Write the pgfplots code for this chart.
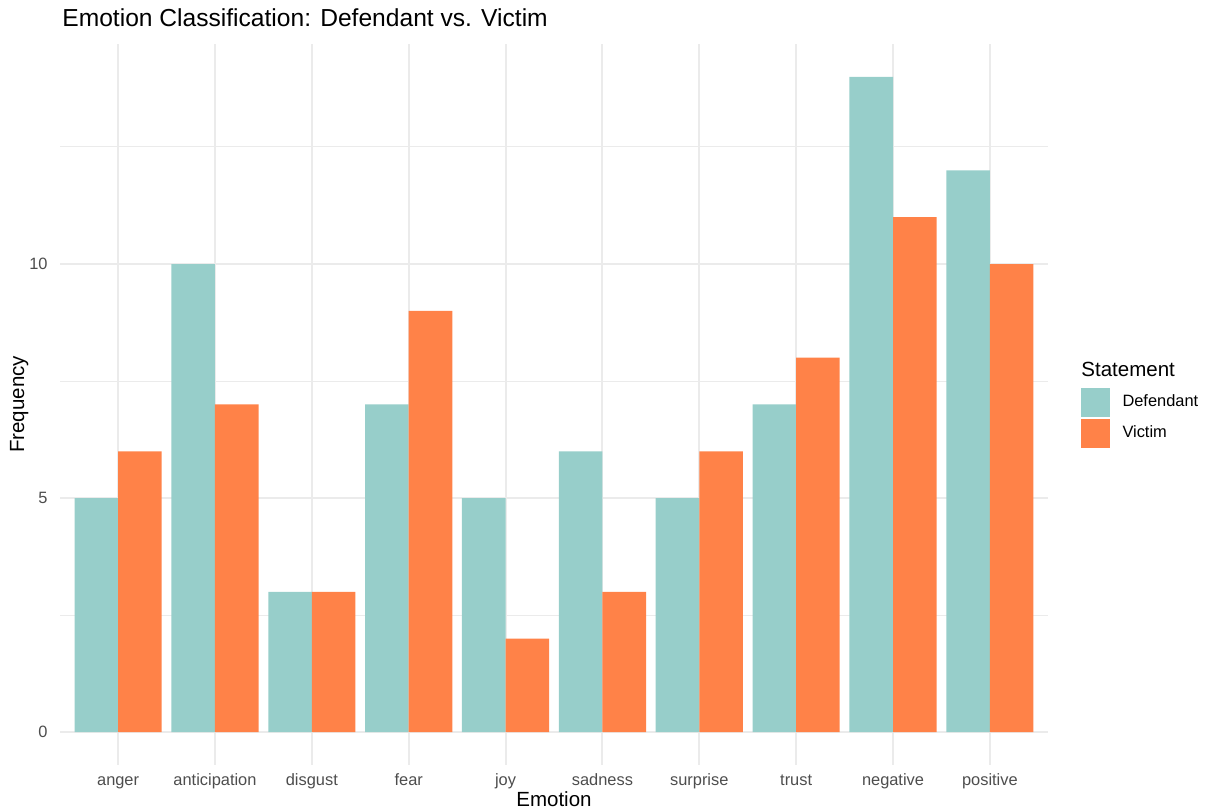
\documentclass[border=0pt]{standalone}
\usepackage{pgfplots}
\pgfplotsset{compat=1.18}
\usepackage{fontspec}
\setmainfont{Liberation Sans}
\definecolor{defc}{HTML}{97CECA}
\definecolor{vicc}{HTML}{FF8248}
\definecolor{gridc}{HTML}{EBEBEB}
\definecolor{tickc}{HTML}{4D4D4D}
\pgfplotstableread{
x def vic
1 5 6
2 10 7
3 3 3
4 7 9
5 5 2
6 6 3
7 5 6
8 7 8
9 14 11
10 12 10
}\emotiondata
\begin{document}
\begin{tikzpicture}
\begin{axis}[
  at={(0,0)}, anchor=south west,
  scale only axis, width=494pt, height=360.5pt,
  xmin=0.4, xmax=10.6, ymin=-0.7, ymax=14.7,
  xtick={1,2,3,4,5,6,7,8,9,10},
  xticklabels={anger,anticipation,disgust,fear,joy,sadness,surprise,trust,negative,positive},
  ytick={0,5,10}, minor ytick={2.5,7.5,12.5},
  xmajorgrids, ymajorgrids, yminorgrids,
  major grid style={gridc, line width=1pt},
  minor grid style={gridc, line width=0.5pt},
  tick style={draw=none},
  axis line style={draw=none},
  /pgf/number format/assume math mode=true,
  ticklabel style={font=\fontsize{8.2}{10}\selectfont, text=tickc},
  xticklabel style={anchor=base, inner sep=0pt, yshift=-10.5pt},
  yticklabel style={anchor=east, inner sep=0pt, xshift=-6pt},
  xlabel={Emotion}, ylabel={Frequency},
  xlabel style={at={(axis description cs:0.5,0)}, anchor=base, inner sep=0pt, yshift=-21pt, font=\fontsize{10.25}{12}\selectfont},
  ylabel style={at={(axis description cs:-0.0364,0.5)}, anchor=base, inner sep=0pt, font=\fontsize{10.25}{12}\selectfont},
  every axis title shift=0pt,
  title={Emotion Classification: Defendant vs. Victim},
  title style={at={(axis description cs:0.002,1.0236)}, anchor=base west, inner sep=0pt, yshift=0pt, font=\fontsize{12.3}{14}\selectfont},
  legend style={at={(1.0332,0.5229)}, anchor=north west, draw=none, fill=none, inner sep=0pt, outer sep=0pt, row sep=1pt, column sep=6.35pt, nodes={inner sep=0pt, font=\fontsize{8.2}{10}\selectfont}},
  legend cell align=left,
  clip=false,
]
\addplot[ybar, bar width=0.45, bar shift=-0.225, fill=defc, draw=none,
  legend image code/.code={\fill[defc] (0pt,-7.25pt) rectangle (14.5pt,7.25pt);}]
  table[x=x, y=def] {\emotiondata};
\addlegendentry{Defendant}
\addplot[ybar, bar width=0.45, bar shift=0.225, fill=vicc, draw=none,
  legend image code/.code={\fill[vicc] (0pt,-7.25pt) rectangle (14.5pt,7.25pt);}]
  table[x=x, y=vic] {\emotiondata};
\addlegendentry{Victim}
\node[anchor=base west, inner sep=0pt, font=\fontsize{10.25}{12}\selectfont] at (rel axis cs:1.0334,0.5395) {Statement};
\end{axis}
\pgfresetboundingbox
\useasboundingbox (-30pt,-23.5pt) rectangle (572.5pt,382.5pt);
\end{tikzpicture}
\end{document}
